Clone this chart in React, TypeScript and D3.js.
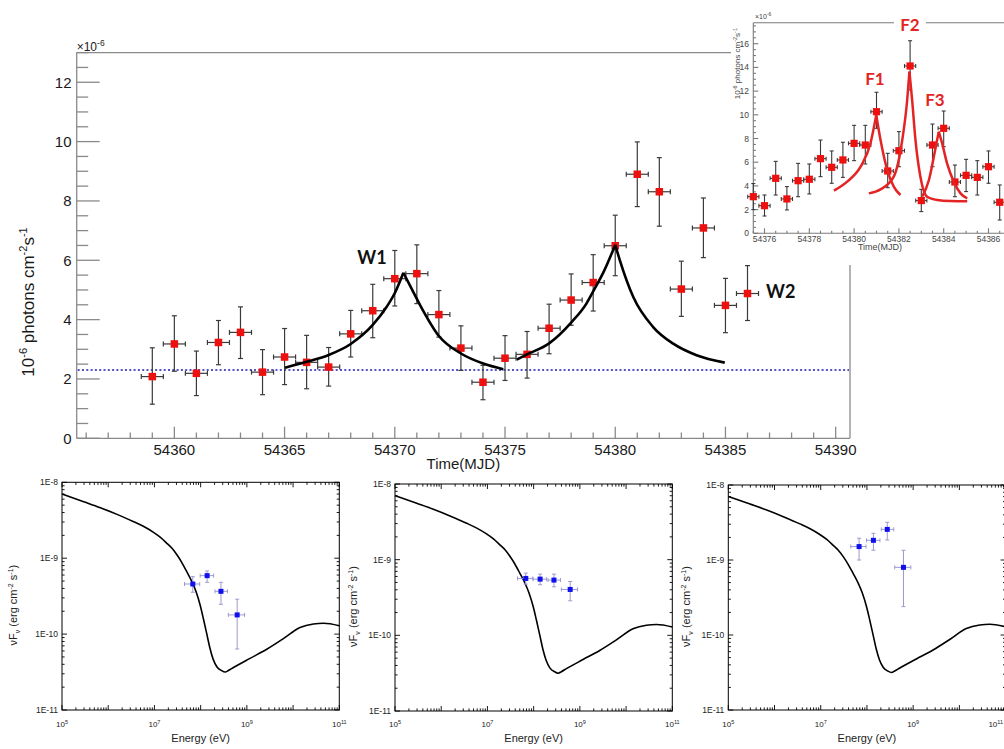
import React from "react";
import * as d3 from "d3";

// ---------------- Main light curve (daily bins) ----------------
const dayMjd = [54359, 54360, 54361, 54362, 54363, 54364, 54365, 54366, 54367, 54368, 54369, 54370, 54371, 54372,
  54373, 54374, 54375, 54376, 54377, 54378, 54379, 54380, 54381, 54382, 54383, 54384, 54385, 54386];
const dayFlux = [2.08, 3.18, 2.19, 3.23, 3.57, 2.23, 2.74, 2.56, 2.40, 3.52, 4.30, 5.38, 5.55, 4.17,
  3.04, 1.89, 2.70, 2.83, 3.71, 4.66, 5.25, 6.49, 8.90, 8.31, 5.03, 7.09, 4.48, 4.88];
const dayFluxHi = [3.05, 4.13, 2.94, 3.97, 4.43, 2.99, 3.70, 3.47, 3.06, 4.31, 5.19, 6.33, 6.52, 4.98,
  3.79, 2.46, 3.46, 3.60, 4.52, 5.54, 6.19, 7.52, 9.99, 9.46, 5.97, 8.10, 5.39, 5.82];
const dayFluxLo = [1.15, 2.26, 1.44, 2.48, 2.69, 1.47, 1.81, 1.67, 1.76, 2.74, 3.39, 4.46, 4.54, 3.41,
  2.29, 1.30, 1.95, 2.03, 2.85, 3.81, 4.29, 5.48, 7.81, 7.15, 4.11, 6.09, 3.56, 3.97];
const baselineFlux = 2.3;

const w1Rise: [number, number][] = [[54365.02, 2.38], [54366.0, 2.58], [54367.0, 2.81], [54368.0, 3.18], [54369.0, 3.82], [54369.64, 4.44], [54370.03, 4.94], [54370.39, 5.58]];
const w1Decay: [number, number][] = [[54370.39, 5.58], [54370.79, 5.0], [54371.14, 4.5], [54372.0, 3.45], [54373.02, 2.85], [54374.01, 2.52], [54374.92, 2.33]];
const w2Rise: [number, number][] = [[54375.53, 2.65], [54376.0, 2.83], [54377.0, 3.2], [54378.0, 3.9], [54378.7, 4.55], [54379.0, 4.95], [54379.5, 5.65], [54380.0, 6.52]];
const w2Decay: [number, number][] = [[54380.0, 6.52], [54380.21, 6.0], [54380.82, 4.76], [54381.72, 3.75], [54382.63, 3.19], [54383.69, 2.80], [54384.97, 2.55]];

const mainXTicks = [54360, 54365, 54370, 54375, 54380, 54385, 54390];
const mainYTicks = [0, 2, 4, 6, 8, 10, 12];

// ---------------- Inset (half-day bins) ----------------
const halfMjd = [54375.5, 54376, 54376.5, 54377, 54377.5, 54378, 54378.5, 54379, 54379.5, 54380, 54380.5, 54381,
  54381.5, 54382, 54382.5, 54383, 54383.5, 54384, 54384.5, 54385, 54385.5, 54386, 54386.5];
const halfFlux = [3.09, 2.33, 4.64, 2.90, 4.44, 4.56, 6.30, 5.57, 6.19, 7.59, 7.45, 10.26,
  5.26, 6.97, 14.12, 2.76, 7.45, 8.86, 4.33, 4.89, 4.72, 5.62, 2.62];
const halfFluxHi = [4.2, 3.23, 6.07, 3.94, 5.9, 5.85, 7.87, 6.95, 7.68, 9.11, 9.11, 11.9,
  6.75, 8.58, 16.25, 3.71, 9.22, 10.32, 5.76, 6.24, 6.13, 6.95, 4.08];
const halfFluxLo = [2.0, 1.46, 3.23, 1.97, 3.09, 3.32, 4.78, 4.22, 4.72, 6.13, 5.85, 8.86,
  3.85, 5.62, 12.1, 1.83, 5.62, 7.31, 3.09, 3.52, 3.23, 4.22, 1.12];

const f1Rise: [number, number][] = [[54379.10, 3.6], [54379.69, 4.36], [54380.29, 5.62], [54380.73, 7.59], [54380.99, 9.98]];
const f1Decay: [number, number][] = [[54380.99, 9.98], [54381.18, 7.87], [54381.48, 5.34], [54381.77, 3.94], [54382.07, 3.23]];
const f2Rise: [number, number][] = [[54380.66, 3.37], [54381.18, 3.71], [54381.77, 4.78], [54382.15, 7.87], [54382.37, 11.25], [54382.47, 13.64]];
const f2Decay: [number, number][] = [[54382.47, 13.64], [54382.59, 11.25], [54382.74, 7.87], [54382.96, 4.78], [54383.26, 3.09], [54383.71, 2.81], [54384.3, 2.72], [54385.05, 2.7]];
const f3Rise: [number, number][] = [[54383.04, 3.09], [54383.34, 4.5], [54383.59, 6.75], [54383.78, 8.58]];
const f3Decay: [number, number][] = [[54383.78, 8.58], [54383.93, 7.59], [54384.15, 5.9], [54384.45, 4.36], [54384.75, 3.37], [54385.05, 2.95]];

const insetXTicks = [54376, 54378, 54380, 54382, 54384, 54386];
const insetYTicks = [0, 2, 4, 6, 8, 10, 12, 14, 16];

// ---------------- SED panels ----------------
const sedCurveE = [1.0e5, 2.95e5, 6.76e5, 1.55e6, 3.55e6, 5.89e6, 9.55e6, 1.35e7, 1.86e7, 2.40e7, 3.09e7, 3.89e7,
  5.01e7, 6.46e7, 7.94e7, 9.77e7, 1.15e8, 1.35e8, 1.58e8, 1.86e8, 2.24e8, 2.82e8, 3.39e8, 3.98e8, 5.13e8,
  1.17e9, 2.69e9, 6.17e9, 1.41e10, 2.75e10, 4.57e10, 1.0e11];
const sedCurveF = [7.02e-9, 5.56e-9, 4.63e-9, 3.78e-9, 3.03e-9, 2.61e-9, 2.19e-9, 1.88e-9, 1.57e-9, 1.35e-9, 1.10e-9, 8.83e-10,
  6.65e-10, 4.92e-10, 3.63e-10, 2.40e-10, 1.58e-10, 1.02e-10, 6.61e-11, 4.68e-11, 3.72e-11, 3.31e-11, 3.16e-11, 3.31e-11, 3.63e-11,
  4.79e-11, 6.31e-11, 8.71e-11, 1.22e-10, 1.36e-10, 1.39e-10, 1.29e-10];

const sedE = [6.76e7, 1.38e8, 2.75e8, 6.17e8];
const sedELo = [4.47e7, 9.77e7, 2.04e8, 3.98e8];
const sedEHi = [9.55e7, 1.91e8, 3.80e8, 8.91e8];

const sedFluxA = [4.57e-10, 5.89e-10, 3.66e-10, 1.79e-10];
const sedFluxAHi = [5.71e-10, 6.79e-10, 4.81e-10, 2.88e-10];
const sedFluxALo = [3.56e-10, 4.81e-10, 2.47e-10, 6.37e-11];
const sedFluxB = [5.65e-10, 5.53e-10, 5.37e-10, 4.04e-10];
const sedFluxBHi = [6.64e-10, 6.44e-10, 6.44e-10, 5.15e-10];
const sedFluxBLo = [4.75e-10, 4.66e-10, 4.38e-10, 2.86e-10];
const sedFluxC = [1.51e-9, 1.83e-9, 2.56e-9, 7.98e-10];
const sedFluxCHi = [1.95e-9, 2.27e-9, 3.18e-9, 1.35e-9];
const sedFluxCLo = [1.0e-9, 1.35e-9, 1.85e-9, 2.39e-10];

const sedXLabels = [5, 7, 9, 11];
const sedYLabels = ["1E-8", "1E-9", "1E-10", "1E-11"];

// ---------------- layout ----------------
const FONT = "'Liberation Sans', Arial, Helvetica, sans-serif";
const BOLD = "Lato, 'Open Sans', 'Liberation Sans', sans-serif";
const AXIS_GRAY = "#8a8a8a";
const W = 1004;

const M = { x0: 76.7, x1: 850, y0: 52.6, y1: 438.3 };
const xMain = d3.scaleLinear().domain([54355.57, 54390.65]).range([M.x0, M.x1]);
const yMain = d3.scaleLinear().domain([0, 13]).range([M.y1, M.y0]);

const I = { x0: 753.3, y0: 22.7, y1: 233.3 };
const xIn = d3.scaleLinear().domain([54376, 54386]).range([764.5, 988.5]);
const yIn = d3.scaleLinear().domain([0, 16]).range([233.3, 43.7]);

const panels = [
  { x0: 62, x1: 339.3, y0: 482.3, y1: 710, titleOff: 49, f: sedFluxA, hi: sedFluxAHi, lo: sedFluxALo },
  { x0: 395, x1: 672.3, y0: 484, y1: 711, titleOff: 42, f: sedFluxB, hi: sedFluxBHi, lo: sedFluxBLo },
  { x0: 728.3, x1: 1005.6, y0: 485, y1: 710, titleOff: 42, f: sedFluxC, hi: sedFluxCHi, lo: sedFluxCLo },
];

function ErrBar(props: { x: number; y: number; xl: number; xr: number; yt: number; yb: number; color: string; cap: number; w: number }) {
  const { x, y, xl, xr, yt, yb, color, cap, w } = props;
  return (
    <g stroke={color} strokeWidth={w} fill="none">
      <line x1={xl} x2={xr} y1={y} y2={y} />
      <line x1={xl} x2={xl} y1={y - cap} y2={y + cap} />
      <line x1={xr} x2={xr} y1={y - cap} y2={y + cap} />
      <line x1={x} x2={x} y1={yt} y2={yb} />
      <line x1={x - cap} x2={x + cap} y1={yt} y2={yt} />
      <line x1={x - cap} x2={x + cap} y1={yb} y2={yb} />
    </g>
  );
}

function MainChart() {
  const line = d3.line<[number, number]>().x((d) => xMain(d[0])).y((d) => yMain(d[1])).curve(d3.curveMonotoneX);
  const yt = d3.range(0, 13.001, 0.5);
  const xt = d3.range(54356, 54390.01, 1);
  const ms = 7.5;
  return (
    <g>
      <g stroke={AXIS_GRAY} strokeWidth={1.3}>
        <line x1={M.x0} x2={W} y1={M.y0} y2={M.y0} />
        <line x1={M.x1} x2={M.x1} y1={M.y0} y2={M.y1} />
        <line x1={M.x0} x2={M.x0} y1={M.y0} y2={M.y1} />
        <line x1={M.x0} x2={M.x1} y1={M.y1} y2={M.y1} />
        {yt.map((v) => {
          const major = Math.abs(v % 2) < 1e-6;
          return <line key={"yt" + v} x1={M.x0} x2={M.x0 + (major ? 23 : 11.5)} y1={yMain(v)} y2={yMain(v)} />;
        })}
        {xt.map((v) => {
          const major = v % 5 === 0;
          return <line key={"xt" + v} x1={xMain(v)} x2={xMain(v)} y1={M.y1} y2={M.y1 - (major ? 11.6 : 5.8)} />;
        })}
      </g>
      <g fontFamily={FONT} fontSize={15} fill="#1a1a1a">
        {mainYTicks.map((v) => (
          <text key={"yl" + v} x={71.5} y={yMain(v)} dy="0.36em" textAnchor="end">{v}</text>
        ))}
        {mainXTicks.map((v) => (
          <text key={"xl" + v} x={xMain(v)} y={455} textAnchor="middle">{v}</text>
        ))}
        <text x={(M.x0 + M.x1) / 2} y={469} textAnchor="middle">Time(MJD)</text>
        <text x={M.x0} y={50.5} fontSize={12}>
          ×10<tspan dy={-5} fontSize={8.5}>-6</tspan>
        </text>
        <text transform={`translate(34,302) rotate(-90)`} textAnchor="middle" fontSize={17}>
          10<tspan dy={-7} fontSize={11}>-6</tspan>
          <tspan dy={7}> photons cm</tspan>
          <tspan dy={-7} fontSize={11}>-2</tspan>
          <tspan dy={7}>s</tspan>
          <tspan dy={-7} fontSize={11}>-1</tspan>
        </text>
      </g>
      <line x1={M.x0 + 1} x2={M.x1 - 1} y1={yMain(baselineFlux)} y2={yMain(baselineFlux)} stroke="#1c1cb4" strokeWidth={1.4} strokeDasharray="2 2.3" />
      {dayMjd.map((t, i) => (
        <ErrBar key={"e" + t} x={xMain(t)} y={yMain(dayFlux[i])} xl={xMain(t - 0.5)} xr={xMain(t + 0.5)}
          yt={yMain(dayFluxHi[i])} yb={yMain(dayFluxLo[i])} color="#3a3a3a" cap={2.5} w={1.2} />
      ))}
      {dayMjd.map((t, i) => (
        <rect key={"m" + t} x={xMain(t) - ms / 2} y={yMain(dayFlux[i]) - ms / 2} width={ms} height={ms} fill="#ee0f0f" />
      ))}
      <g fill="none" stroke="#000" strokeWidth={2.6} strokeLinejoin="round">
        <path d={line(w1Rise) || ""} />
        <path d={line(w1Decay) || ""} />
        <path d={line(w2Rise) || ""} />
        <path d={line(w2Decay) || ""} />
      </g>
      <g fontFamily={BOLD} fontWeight="bold" fontSize={18} fill="#111">
        <text x={372} y={264} textAnchor="middle">W1</text>
        <text x={766} y={298}>W2</text>
      </g>
    </g>
  );
}

function Inset() {
  const line = d3.line<[number, number]>().x((d) => xIn(d[0])).y((d) => yIn(d[1])).curve(d3.curveMonotoneX);
  const yt = d3.range(0, 17.6, 0.5);
  const xt = d3.range(54375.5, 54387.01, 0.5);
  const ms = 7.2;
  const red = "#e42424";
  return (
    <g>
      <rect x={731} y={0} width={273} height={265} fill="#fff" />
      <g stroke="#7a7a7a" strokeWidth={1.1}>
        <line x1={I.x0} x2={W} y1={I.y0} y2={I.y0} />
        <line x1={I.x0} x2={I.x0} y1={I.y0} y2={I.y1} />
        <line x1={I.x0} x2={W} y1={I.y1} y2={I.y1} />
        {yt.map((v) => {
          const major = Math.abs(v % 2) < 1e-6;
          return <line key={"iyt" + v} x1={I.x0} x2={I.x0 + (major ? 5 : 2.6)} y1={yIn(v)} y2={yIn(v)} />;
        })}
        {xt.map((v) => {
          const major = Math.abs(v % 2) < 1e-6;
          return <line key={"ixt" + v} x1={xIn(v)} x2={xIn(v)} y1={I.y1} y2={I.y1 - (major ? 5 : 2.6)} />;
        })}
      </g>
      <g fontFamily={FONT} fontSize={8.5} fill="#444">
        {insetYTicks.map((v) => (
          <text key={"iyl" + v} x={749} y={yIn(v)} dy="0.36em" textAnchor="end">{v}</text>
        ))}
        {insetXTicks.map((v) => (
          <text key={"ixl" + v} x={xIn(v)} y={241.5} textAnchor="middle">{v}</text>
        ))}
        <text x={880} y={250} textAnchor="middle" fontSize={9}>Time(MJD)</text>
        <text x={755} y={19} fontSize={7}>
          ×10<tspan dy={-3} fontSize={5}>-6</tspan>
        </text>
        <text transform={`translate(740,28) rotate(-90)`} textAnchor="end" fontSize={8}>
          10<tspan dy={-3} fontSize={5.5}>-6</tspan>
          <tspan dy={3}> photons cm</tspan>
          <tspan dy={-3} fontSize={5.5}>-2</tspan>
          <tspan dy={3}>s</tspan>
          <tspan dy={-3} fontSize={5.5}>-1</tspan>
        </text>
      </g>
      {halfMjd.map((t, i) => (
        <ErrBar key={"ie" + t} x={xIn(t)} y={yIn(halfFlux[i])} xl={xIn(t - 0.25)} xr={xIn(t + 0.25)}
          yt={yIn(halfFluxHi[i])} yb={yIn(halfFluxLo[i])} color="#3a3a3a" cap={2} w={1.1} />
      ))}
      {halfMjd.map((t, i) => (
        <rect key={"im" + t} x={xIn(t) - ms / 2} y={yIn(halfFlux[i]) - ms / 2} width={ms} height={ms} fill="#ee0f0f" />
      ))}
      <g fill="none" stroke={red} strokeWidth={2.5} strokeLinejoin="round">
        <path d={line(f1Rise) || ""} />
        <path d={line(f1Decay) || ""} />
        <path d={line(f2Rise) || ""} />
        <path d={line(f2Decay) || ""} />
        <path d={line(f3Rise) || ""} />
        <path d={line(f3Decay) || ""} />
      </g>
      <rect x={894} y={14} width={32} height={19} fill="#fff" />
      <g fontFamily={BOLD} fontWeight="bold" fontSize={17} fill={red} textAnchor="middle">
        <text x={875} y={84.5}>F1</text>
        <text x={910} y={31}>F2</text>
        <text x={935} y={105.5}>F3</text>
      </g>
    </g>
  );
}

function SedPanel(props: { p: typeof panels[number]; idx: number }) {
  const { p, idx } = props;
  const xs = d3.scaleLog().domain([1e5, 1e11]).range([p.x0, p.x1]);
  const ys = d3.scaleLog().domain([1e-11, 1e-8]).range([p.y1, p.y0]);
  const line = d3.line<number>().x((_, i) => xs(sedCurveE[i])).y((d) => ys(d)).curve(d3.curveMonotoneX);
  const xt = xs.ticks();
  const ytk = ys.ticks();
  const isMajor = (v: number) => Math.abs(Math.log10(v) - Math.round(Math.log10(v))) < 1e-6;
  const ms = 5;
  const midY = (p.y0 + p.y1) / 2;
  return (
    <g>
      <rect x={p.x0} y={p.y0} width={p.x1 - p.x0} height={p.y1 - p.y0} fill="none" stroke="#000" strokeWidth={1} />
      <g stroke="#000" strokeWidth={0.9}>
        {xt.map((v, i) => {
          const L = isMajor(v) ? 5 : 2.6;
          const x = xs(v);
          return (
            <g key={"sx" + i}>
              <line x1={x} x2={x} y1={p.y1} y2={p.y1 - L} />
              <line x1={x} x2={x} y1={p.y0} y2={p.y0 + L} />
            </g>
          );
        })}
        {ytk.map((v, i) => {
          const L = isMajor(v) ? 5 : 2.6;
          const y = ys(v);
          return (
            <g key={"sy" + i}>
              <line x1={p.x0} x2={p.x0 + L} y1={y} y2={y} />
              <line x1={p.x1} x2={p.x1 - L} y1={y} y2={y} />
            </g>
          );
        })}
      </g>
      <g fontFamily={FONT} fill="#222">
        {sedXLabels.map((e) => {
          const x = xs(Math.pow(10, e));
          const overflow = x + 8 > W;
          return (
            <text key={"sxl" + e} x={overflow ? W - 1 : x} y={727} fontSize={8} textAnchor={overflow ? "end" : "middle"}>
              10<tspan dy={-3.5} fontSize={5.5}>{e}</tspan>
            </text>
          );
        })}
        {sedYLabels.map((s, i) => (
          <text key={"syl" + s} x={p.x0 - 4} y={ys(Math.pow(10, -8 - i))} dy="0.35em" fontSize={8.5} textAnchor="end">{s}</text>
        ))}
        <text x={(p.x0 + p.x1) / 2} y={742} fontSize={11} textAnchor="middle">Energy (eV)</text>
        <text transform={`translate(${p.x0 - p.titleOff + 4},${midY + 9}) rotate(-90)`} fontSize={11} textAnchor="middle">
          νF<tspan dy={3} fontSize={7}>ν</tspan>
          <tspan dy={-3}> (erg cm</tspan>
          <tspan dy={-4} fontSize={7}>-2</tspan>
          <tspan dy={4}> s</tspan>
          <tspan dy={-4} fontSize={7}>-1</tspan>
          <tspan dy={4}>)</tspan>
        </text>
      </g>
      <path d={line(sedCurveF) || ""} fill="none" stroke="#000" strokeWidth={1.6} />
      {sedE.map((e, i) => (
        <ErrBar key={"se" + idx + i} x={xs(e)} y={ys(p.f[i])} xl={xs(sedELo[i])} xr={xs(sedEHi[i])}
          yt={ys(p.hi[i])} yb={ys(p.lo[i])} color="#9a9ad2" cap={2} w={1} />
      ))}
      {sedE.map((e, i) => (
        <rect key={"sm" + idx + i} x={xs(e) - ms / 2} y={ys(p.f[i]) - ms / 2} width={ms} height={ms} fill="#1010ee" />
      ))}
    </g>
  );
}

export default function App() {
  return (
    <div style={{ position: "absolute", left: 0, top: 0 }}>
      <svg width={W} height={749} viewBox="0 0 1004 749" style={{ display: "block", background: "#fff" }}>
        <rect x={0} y={0} width={W} height={749} fill="#fff" />
        <MainChart />
        <Inset />
        {panels.map((p, i) => (
          <SedPanel key={"p" + i} p={p} idx={i} />
        ))}
      </svg>
    </div>
  );
}
